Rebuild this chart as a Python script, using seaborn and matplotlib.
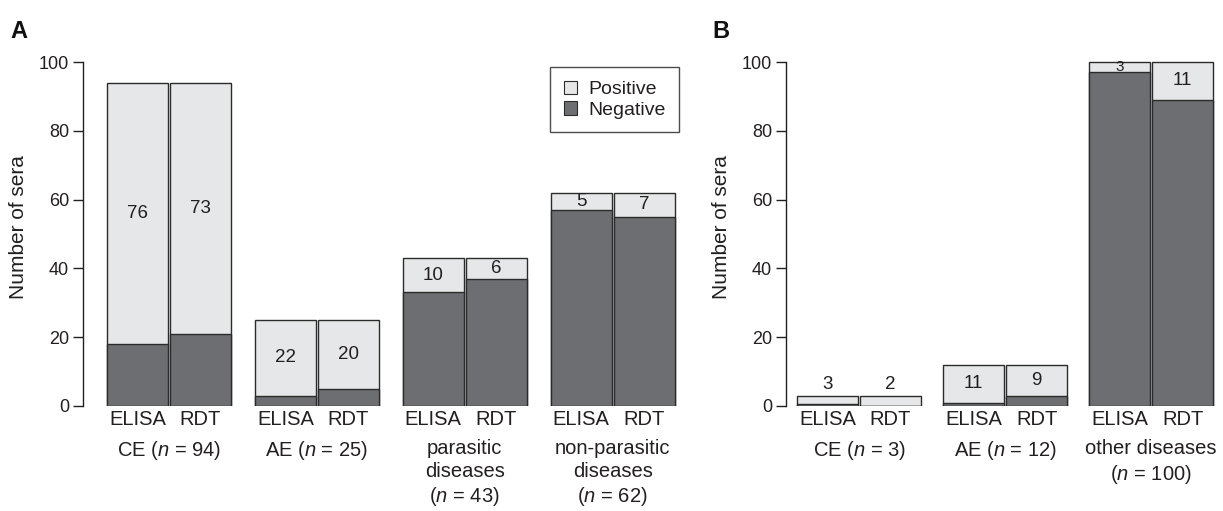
import numpy as np
import pandas as pd
import matplotlib
matplotlib.use("Agg")
import matplotlib.pyplot as plt
from matplotlib.patches import Patch
import seaborn as sns

# ---------------- data ----------------
tests = ["ELISA", "RDT"]

groups_a = ["CE (n = 94)", "AE (n = 25)", "parasitic\ndiseases\n(n = 43)", "non-parasitic\ndiseases\n(n = 62)"]
total_a = [94, 94, 25, 25, 43, 43, 62, 62]
negative_a = [18, 21, 3, 5, 33, 37, 57, 55]
positive_lbl_a = [76, 73, 22, 20, 10, 6, 5, 7]

groups_b = ["CE (n = 3)", "AE (n = 12)", "other diseases\n(n = 100)"]
total_b = [3, 3, 12, 12, 100, 100]
negative_b = [0.7, 0, 1, 3, 97, 89]
positive_lbl_b = [3, 2, 11, 9, 3, 11]

# ---------------- style ----------------
sns.set_style("ticks")
plt.rcParams["font.family"] = ["Liberation Sans", "DejaVu Sans"]
plt.rcParams["mathtext.fontset"] = "custom"
plt.rcParams["mathtext.rm"] = "Liberation Sans"
plt.rcParams["mathtext.it"] = "Liberation Sans:italic"
TXT = "#231f20"
plt.rcParams["text.color"] = TXT
plt.rcParams["axes.labelcolor"] = TXT
plt.rcParams["xtick.color"] = TXT
plt.rcParams["ytick.color"] = TXT

LIGHT = "#e6e7e8"
DARK = "#6d6e71"
EDGE = "#2b2b2b"

W, H = 1223, 511
fig = plt.figure(figsize=(W / 100, H / 100), dpi=100)


def italic_n(s):
    return s.replace("n =", r"$\it{n}$ =")


def make_df(groups, total, neg, lbl, spacing):
    rows = []
    for i, g in enumerate(groups):
        for j, t in enumerate(tests):
            k = 2 * i + j
            rows.append(dict(group=g, test=t, x=i * spacing + j,
                             total=total[k], neg=neg[k], lbl=lbl[k]))
    return pd.DataFrame(rows)


def panel(ax, df, groups, spacing, xlim, letter, letter_x, small_thresh=4):
    sns.barplot(data=df, x="x", y="total", native_scale=True, width=0.97,
                color=LIGHT, saturation=1, edgecolor=EDGE, linewidth=1.0,
                errorbar=None, ax=ax)
    sns.barplot(data=df, x="x", y="neg", native_scale=True, width=0.97,
                color=DARK, saturation=1, edgecolor=EDGE, linewidth=1.0,
                errorbar=None, ax=ax)
    ax.set_xlim(*xlim)
    ax.set_ylim(0, 104)
    ax.set_yticks([0, 20, 40, 60, 80, 100])
    ax.tick_params(axis="y", labelsize=13, length=7, width=1, direction="out", pad=3)
    ax.spines["left"].set_bounds(0, 100)
    ax.spines["left"].set_linewidth(1)
    ax.spines["left"].set_color(TXT)
    for s in ["top", "right", "bottom"]:
        ax.spines[s].set_visible(False)
    ax.set_xticks(df["x"].tolist())
    ax.set_xticklabels(df["test"].tolist())
    ax.tick_params(axis="x", length=0, labelsize=14.5, pad=3)
    ax.set_xlabel("")
    ax.set_ylabel("Number of sera", fontsize=15, labelpad=8)

    # numbers on bars
    for _, r in df.iterrows():
        seg = r["total"] - r["neg"]
        if r["total"] < 5:
            y, va, fs = r["total"] + 0.8, "bottom", 13.5
        elif seg < small_thresh:
            y, va, fs = (r["total"] + r["neg"]) / 2, "center", 11
        else:
            y, va, fs = (r["total"] + r["neg"]) / 2, "center", 13.5
        ax.text(r["x"], y, str(int(r["lbl"])), ha="center", va=va, fontsize=fs, color=TXT)

    # group labels
    for i, g in enumerate(groups):
        ax.annotate(italic_n(g), xy=(i * spacing + 0.5, 0), xycoords="data",
                    xytext=(0, -24), textcoords="offset points",
                    ha="center", va="top", fontsize=14.5, linespacing=1.25,
                    annotation_clip=False)

    fig.text(letter_x / W, 1 - 31 / H, letter, fontsize=17, fontweight="bold",
             ha="left", va="center", color="#111111")


# panel A
sp_a = 2.35
ax_a = fig.add_axes([83 / W, 1 - 406 / H, 602 / W, (104 * 3.44) / H])
df_a = make_df(groups_a, total_a, negative_a, positive_lbl_a, sp_a)
panel(ax_a, df_a, groups_a, sp_a, (-0.866, 8.7), "A", 10)

# panel B
sp_b = 2.32
ax_b = fig.add_axes([786 / W, 1 - 406 / H, 432 / W, (104 * 3.44) / H])
df_b = make_df(groups_b, total_b, negative_b, positive_lbl_b, sp_b)
panel(ax_b, df_b, groups_b, sp_b, (-0.66, 6.2), "B", 712)

# legend
handles = [Patch(facecolor=LIGHT, edgecolor=EDGE, linewidth=0.8, label="Positive"),
           Patch(facecolor=DARK, edgecolor=EDGE, linewidth=0.8, label="Negative")]
leg = ax_a.legend(handles=handles, loc="upper left",
                  bbox_to_anchor=(550 / W, 1 - 67 / H), bbox_transform=fig.transFigure,
                  frameon=True, fancybox=False, fontsize=14, handlelength=0.7,
                  handleheight=0.7, handletextpad=0.55, labelspacing=0.15,
                  borderpad=0.7, borderaxespad=0)
leg.get_frame().set_edgecolor(TXT)
leg.get_frame().set_linewidth(1)

fig.savefig("out.png", dpi=100)
